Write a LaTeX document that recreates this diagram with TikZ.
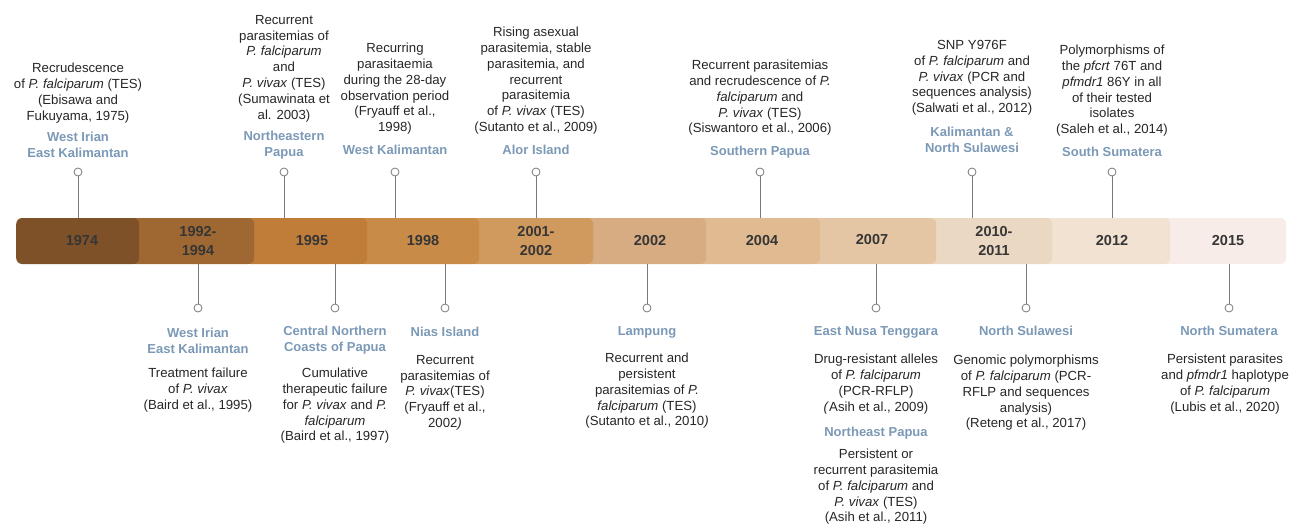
\documentclass[tikz,border=0pt]{standalone}
\usepackage{fontspec}
\setmainfont{Liberation Sans}
\definecolor{cA}{HTML}{7E5128}
\definecolor{cB}{HTML}{9F6832}
\definecolor{cC}{HTML}{C07D3A}
\definecolor{cD}{HTML}{C98B48}
\definecolor{cE}{HTML}{D09A5E}
\definecolor{cF}{HTML}{D8AC82}
\definecolor{cG}{HTML}{E0BA90}
\definecolor{cH}{HTML}{E5C6A4}
\definecolor{cI}{HTML}{EBD8C3}
\definecolor{cJ}{HTML}{F1E2D2}
\definecolor{cK}{HTML}{F8ECE8}
\definecolor{loccol}{HTML}{7B99B6}
\definecolor{bodycol}{HTML}{262626}
\definecolor{yearcol}{HTML}{363636}
\definecolor{stemcol}{HTML}{7A7A7A}
\begin{document}
\begin{tikzpicture}[x=1pt,y=-1pt,
  seg/.style={rectangle,rounded corners=6pt,inner sep=0pt,minimum height=46pt,anchor=west},
  year/.style={align=center,inner sep=0pt,text=yearcol,font=\fontsize{14.5}{18.5}\selectfont\bfseries},
  loc/.style={align=center,inner sep=0pt,anchor=north,text=loccol,font=\fontsize{13}{16}\selectfont\bfseries},
  body/.style={align=center,inner sep=0pt,anchor=north,text=bodycol,font=\fontsize{13.2}{15.8}\selectfont},
  pin/.style={circle,draw=stemcol,fill=white,line width=0.8pt,minimum size=8pt,inner sep=0pt},
  stem/.style={draw=stemcol,line width=0.8pt}]
\useasboundingbox (0,0) rectangle (1293,525);
% bar segments, drawn last-to-first so earlier ones overlap
\node[seg,fill=cK,minimum width=125pt] (s11) at (1161,241) {};
\node[seg,fill=cJ,minimum width=128pt] (s10) at (1042,241) {};
\node[seg,fill=cI,minimum width=126pt] (s9) at (926,241) {};
\node[seg,fill=cH,minimum width=126pt] (s8) at (810,241) {};
\node[seg,fill=cG,minimum width=124pt] (s7) at (696,241) {};
\node[seg,fill=cF,minimum width=123pt] (s6) at (583,241) {};
\node[seg,fill=cE,minimum width=124pt] (s5) at (469,241) {};
\node[seg,fill=cD,minimum width=122pt] (s4) at (357,241) {};
\node[seg,fill=cC,minimum width=123pt] (s3) at (244,241) {};
\node[seg,fill=cB,minimum width=125pt] (s2) at (129,241) {};
\node[seg,fill=cA,minimum width=123pt] (s1) at (16,241) {};
% year labels
\node[year] (y1) at (82,241) {1974};
\node[year] (y2) at (198,241) {1992-\\1994};
\node[year] (y3) at (312,241) {1995};
\node[year] (y4) at (423,241) {1998};
\node[year] (y5) at (536,241) {2001-\\2002};
\node[year] (y6) at (650,241) {2002};
\node[year] (y7) at (762,241) {2004};
\node[year] (y8) at (872,240) {2007};
\node[year] (y9) at (994,241) {2010-\\2011};
\node[year] (y10) at (1112,241) {2012};
\node[year] (y11) at (1228,241) {2015};
% top pins
\node[pin] (pA) at (78,172) {};
\node[pin] (pB) at (284,172) {};
\node[pin] (pC) at (395,172) {};
\node[pin] (pD) at (536,172) {};
\node[pin] (pE) at (760,172) {};
\node[pin] (pF) at (972,172) {};
\node[pin] (pG) at (1112,172) {};
\draw[stem] (pA.south) -- (pA.south |- s1.north);
\draw[stem] (pB.south) -- (pB.south |- s3.north);
\draw[stem] (pC.south) -- (pC.south |- s4.north);
\draw[stem] (pD.south) -- (pD.south |- s5.north);
\draw[stem] (pE.south) -- (pE.south |- s7.north);
\draw[stem] (pF.south) -- (pF.south |- s9.north);
\draw[stem] (pG.south) -- (pG.south |- s10.north);
% bottom pins
\node[pin] (pH) at (198,308) {};
\node[pin] (pI) at (335,308) {};
\node[pin] (pJ) at (445,308) {};
\node[pin] (pK) at (647,308) {};
\node[pin] (pL) at (876,308) {};
\node[pin] (pM) at (1026,308) {};
\node[pin] (pN) at (1229,308) {};
\draw[stem] (pH.north) -- (pH.north |- s2.south);
\draw[stem] (pI.north) -- (pI.north |- s3.south);
\draw[stem] (pJ.north) -- (pJ.north |- s4.south);
\draw[stem] (pK.north) -- (pK.north |- s6.south);
\draw[stem] (pL.north) -- (pL.north |- s8.south);
\draw[stem] (pM.north) -- (pM.north |- s9.south);
\draw[stem] (pN.north) -- (pN.north |- s11.south);
% top texts
\node[body] (tA) at (78,63) {Recrudescence\\of \textit{P. falciparum} (TES)\\(Ebisawa and\\Fukuyama, 1975)};
\node[loc] (lA) at (78,132) {West Irian\\East Kalimantan};
\node[body] (tB) at (284,15) {Recurrent\\parasitemias of\\\textit{P. falciparum}\\and\\\textit{P. vivax} (TES)\\(Sumawinata et\\al. 2003)};
\node[loc] (lB) at (284,131) {Northeastern\\Papua};
\node[body] (tC) at (395,43) {Recurring\\parasitaemia\\during the 28-day\\observation period\\(Fryauff et al.,\\1998)};
\node[loc] (lC) at (395,145) {West Kalimantan};
\node[body] (tD) at (536,27) {Rising asexual\\parasitemia, stable\\parasitemia, and\\recurrent\\parasitemia\\of \textit{P. vivax} (TES)\\(Sutanto et al., 2009)};
\node[loc] (lD) at (536,145) {Alor Island};
\node[body] (tE) at (760,60) {Recurrent parasitemias\\and recrudescence of \textit{P.}\\\textit{falciparum} and\\\textit{P. vivax} (TES)\\(Siswantoro et al., 2006)};
\node[loc] (lE) at (760,146) {Southern Papua};
\node[body] (tF) at (972,40) {SNP Y976F\\of \textit{P. falciparum} and\\\textit{P. vivax} (PCR and\\sequences analysis)\\(Salwati et al., 2012)};
\node[loc] (lF) at (972,127) {Kalimantan \&\\North Sulawesi};
\node[body] (tG) at (1112,45) {Polymorphisms of\\the \textit{pfcrt} 76T and\\\textit{pfmdr1} 86Y in all\\of their tested\\isolates\\(Saleh et al., 2014)};
\node[loc] (lG) at (1112,147) {South Sumatera};
% bottom texts
\node[loc] (lH) at (198,328) {West Irian\\East Kalimantan};
\node[body] (tH) at (198,368) {Treatment failure\\of \textit{P. vivax}\\(Baird et al., 1995)};
\node[loc] (lI) at (335,326) {Central Northern\\Coasts of Papua};
\node[body] (tI) at (335,368) {Cumulative\\therapeutic failure\\for \textit{P. vivax} and \textit{P.}\\\textit{falciparum}\\(Baird et al., 1997)};
\node[loc] (lJ) at (445,327) {Nias Island};
\node[body] (tJ) at (445,355) {Recurrent\\parasitemias of\\\textit{P. vivax}(TES)\\(Fryauff et al.,\\2002\textit{)}};
\node[loc] (lK) at (647,326) {Lampung};
\node[body] (tK) at (647,353) {Recurrent and\\persistent\\parasitemias of \textit{P.}\\\textit{falciparum} (TES)\\(Sutanto et al., 2010\textit{)}};
\node[loc] (lL) at (876,326) {East Nusa Tenggara};
\node[body] (tL) at (876,354) {Drug-resistant alleles\\of \textit{P. falciparum}\\(PCR-RFLP)\\\textit{(}Asih et al., 2009)};
\node[loc] (lL2) at (876,427) {Northeast Papua};
\node[body] (tL2) at (876,449) {Persistent or\\recurrent parasitemia\\of \textit{P. falciparum} and\\\textit{P. vivax} (TES)\\(Asih et al., 2011)};
\node[loc] (lM) at (1026,326) {North Sulawesi};
\node[body] (tM) at (1026,355) {Genomic polymorphisms\\of \textit{P. falciparum} (PCR-\\RFLP and sequences\\analysis)\\(Reteng et al., 2017)};
\node[loc] (lN) at (1229,326) {North Sumatera};
\node[body] (tN) at (1225,354) {Persistent parasites\\and \textit{pfmdr1} haplotype\\of \textit{P. falciparum}\\(Lubis et al., 2020)};
\end{tikzpicture}
\end{document}
